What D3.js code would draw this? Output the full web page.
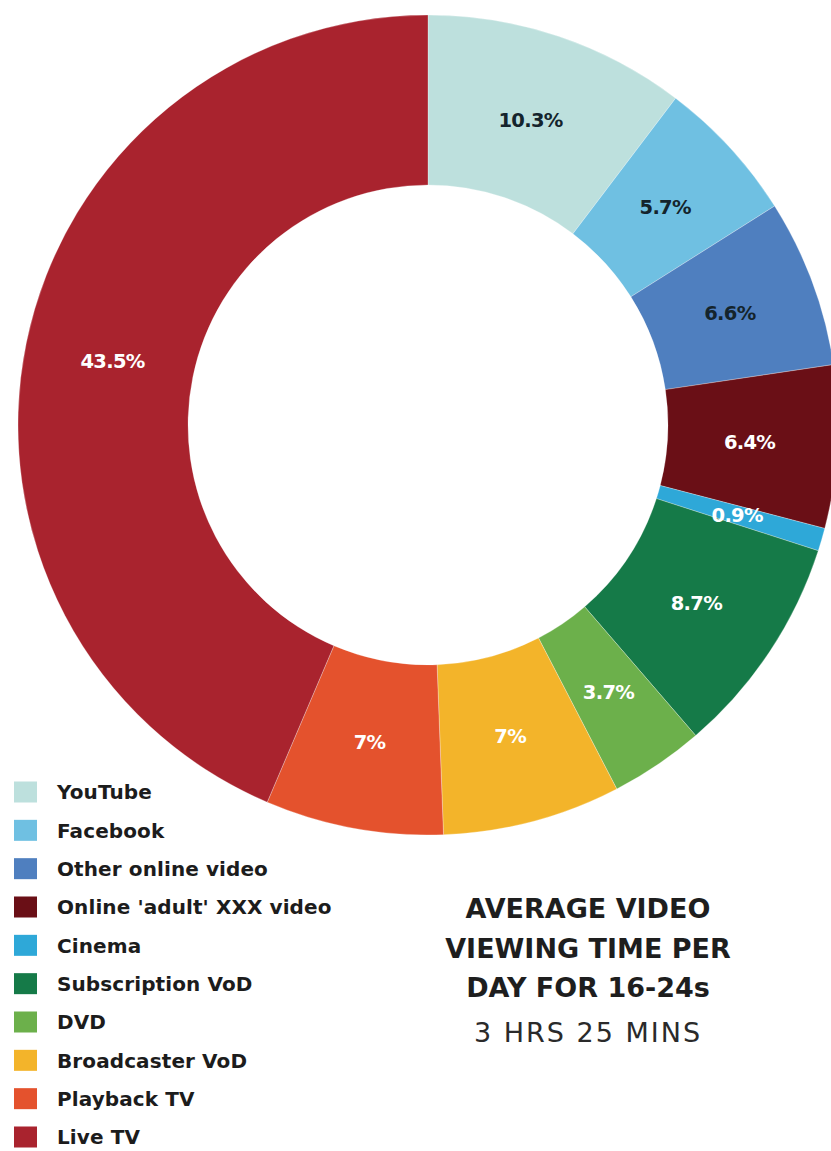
<!DOCTYPE html>
<html>
<head>
<meta charset="utf-8">
<script src="https://cdn.jsdelivr.net/npm/d3@7"></script>
<style>
  html, body { margin: 0; padding: 0; background: #ffffff; }
  svg { display: block; }
</style>
</head>
<body>
<svg id="chart" width="831" height="1151"></svg>
<script>
// ---- data ----
const categories = ["YouTube", "Facebook", "Other online video", "Online 'adult' XXX video", "Cinema",
                    "Subscription VoD", "DVD", "Broadcaster VoD", "Playback TV", "Live TV"];
const values = [10.3, 5.7, 6.6, 6.4, 0.9, 8.7, 3.7, 7, 7, 43.5];
const valueLabels = ["10.3%", "5.7%", "6.6%", "6.4%", "0.9%", "8.7%", "3.7%", "7%", "7%", "43.5%"];
const colors = ["#bde0dd", "#6fc0e2", "#4f7fbf", "#6a0f16", "#2ea8d8",
                "#157a48", "#6cb04b", "#f3b42a", "#e4522d", "#a9232e"];
const labelColors = ["#14242c", "#14242c", "#14242c", "#ffffff", "#ffffff",
                     "#ffffff", "#ffffff", "#ffffff", "#ffffff", "#ffffff"];
const titleLines = ["AVERAGE VIDEO", "VIEWING TIME PER", "DAY FOR 16-24s"];
const subtitle = "3 HRS 25 MINS";

// ---- layout ----
const cx = 428, cy = 425, rOuter = 410, rInner = 240;
const FONT = "'DejaVu Sans', 'Liberation Sans', Arial, sans-serif";
const svg = d3.select("#chart");

const data = categories.map((c, i) => ({ name: c, value: values[i], label: valueLabels[i], color: colors[i], lc: labelColors[i] }));

const pie = d3.pie().value(d => d.value).sort(null);
const arc = d3.arc().innerRadius(rInner).outerRadius(rOuter);
const labelArc = d3.arc().innerRadius(322).outerRadius(322);

const g = svg.append("g").attr("transform", `translate(${cx},${cy})`);
const arcs = pie(data);

g.selectAll("path.slice")
  .data(arcs)
  .join("path")
  .attr("class", "slice")
  .attr("d", arc)
  .attr("fill", d => d.data.color)
  .attr("stroke", "#ffffff")
  .attr("stroke-opacity", 0.35)
  .attr("stroke-width", 0.8);

g.selectAll("text.val")
  .data(arcs)
  .join("text")
  .attr("class", "val")
  .attr("transform", d => `translate(${labelArc.centroid(d)})`)
  .attr("text-anchor", "middle")
  .attr("dy", "0.36em")
  .attr("fill", d => d.data.lc)
  .style("font-family", FONT)
  .style("font-weight", "700")
  .style("font-size", "19.5px")
  .style("letter-spacing", "-0.7px")
  .text(d => d.data.label);

// ---- legend ----
const legendY = d3.scaleLinear().domain([0, categories.length - 1]).range([792, 1137]);
const leg = svg.append("g");
const rows = leg.selectAll("g.row").data(data).join("g")
  .attr("class", "row")
  .attr("transform", (d, i) => `translate(0,${legendY(i)})`);
rows.append("rect")
  .attr("x", 14).attr("y", -10.5)
  .attr("width", 23).attr("height", 21)
  .attr("fill", d => d.color);
rows.append("text")
  .attr("x", 57).attr("dy", "0.36em")
  .attr("fill", "#1c1c1c")
  .style("font-family", FONT)
  .style("font-weight", "700")
  .style("font-size", "20px")
  .style("letter-spacing", "0.1px")
  .text(d => d.name);

// ---- title ----
const tx = 588;
svg.append("g").selectAll("text")
  .data(titleLines)
  .join("text")
  .attr("x", tx)
  .attr("y", (d, i) => 918 + i * 39.5)
  .attr("text-anchor", "middle")
  .attr("fill", "#1e1e1e")
  .style("font-family", FONT)
  .style("font-weight", "700")
  .style("font-size", "27px")
  .style("letter-spacing", "0px")
  .text(d => d);

svg.append("text")
  .attr("x", tx)
  .attr("y", 1042)
  .attr("text-anchor", "middle")
  .attr("fill", "#2a2a2a")
  .style("font-family", FONT)
  .style("font-weight", "400")
  .style("font-size", "27px")
  .style("letter-spacing", "2px")
  .text(subtitle);
</script>
</body>
</html>
